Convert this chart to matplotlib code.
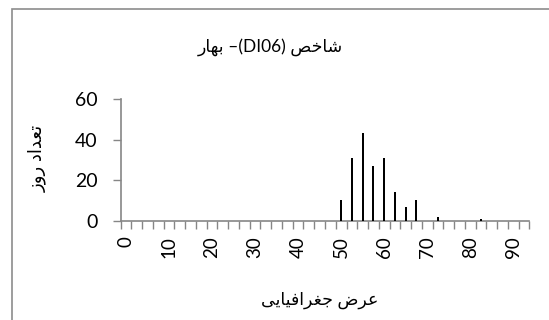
import numpy as np
import matplotlib
matplotlib.use("Agg")
from matplotlib import pyplot as plt
from matplotlib.patches import Rectangle

# latitude classes (category axis) and number of days
latitudes = [0, 2.5, 5, 7.5, 10, 12.5, 15, 17.5, 20, 22.5, 25, 27.5, 30, 32.5,
             35, 37.5, 40, 42.5, 45, 47.5, 50, 52.5, 55, 57.5, 60, 62.5, 65,
             67.5, 70, 72.5, 75, 77.5, 80, 82.5, 85, 87.5, 90, 92.5]
days = [0, 0, 0, 0, 0, 0, 0, 0, 0, 0, 0, 0, 0, 0,
        0, 0, 0, 0, 0, 0, 10, 31, 43, 27, 31, 14, 7,
        10, 0, 2, 0, 0, 0, 0.6, 0, 0, 0, 0]
tick_labels = [0, 10, 20, 30, 40, 50, 60, 70, 80, 90]
y_ticks = [0, 20, 40, 60]

# persian text is shaped by hand (presentation forms), matplotlib has no shaping
forms = {
    'ا': ('\uFE8D', '\uFE8E', None, None),
    'ب': ('\uFE8F', '\uFE90', '\uFE91', '\uFE92'),
    'ت': ('\uFE95', '\uFE96', '\uFE97', '\uFE98'),
    'ج': ('\uFE9D', '\uFE9E', '\uFE9F', '\uFEA0'),
    'خ': ('\uFEA5', '\uFEA6', '\uFEA7', '\uFEA8'),
    'د': ('\uFEA9', '\uFEAA', None, None),
    'ر': ('\uFEAD', '\uFEAE', None, None),
    'ز': ('\uFEAF', '\uFEB0', None, None),
    'ش': ('\uFEB5', '\uFEB6', '\uFEB7', '\uFEB8'),
    'ص': ('\uFEB9', '\uFEBA', '\uFEBB', '\uFEBC'),
    'ض': ('\uFEBD', '\uFEBE', '\uFEBF', '\uFEC0'),
    'ع': ('\uFEC9', '\uFECA', '\uFECB', '\uFECC'),
    'غ': ('\uFECD', '\uFECE', '\uFECF', '\uFED0'),
    'ف': ('\uFED1', '\uFED2', '\uFED3', '\uFED4'),
    'ه': ('\uFEE9', '\uFEEA', '\uFEEB', '\uFEEC'),
    'و': ('\uFEED', '\uFEEE', None, None),
    'ی': ('\uFBFC', '\uFBFD', '\uFBFE', '\uFBFF'),
}


def shape_word(w):
    out = []
    for i, c in enumerate(w):
        f = forms[c]
        prev_joins = i > 0 and forms[w[i - 1]][2] is not None
        next_joins = f[2] is not None and i < len(w) - 1
        if prev_joins and next_joins:
            out.append(f[3])
        elif prev_joins:
            out.append(f[1])
        elif next_joins:
            out.append(f[2])
        else:
            out.append(f[0])
    return ''.join(reversed(out))


def shape(text):
    # right to left: reverse word order too
    return ' '.join(shape_word(w) for w in reversed(text.split()))


title_txt = shape_word('بهار') + ' –(DI06) ' + shape_word('شاخص')
ylabel_txt = shape('تعداد روز')
xlabel_txt = shape('عرض جغرافیایی')

fonts = ['Lato', 'DejaVu Sans']
plt.rcParams['font.family'] = fonts
axis_gray = '#868686'

fig = plt.figure(figsize=(5.49, 3.2), dpi=100)
ax = fig.add_axes([120.7 / 549, 1 - 220.7 / 320, (529.3 - 120.7) / 549, (220.7 - 99) / 320])

ax.bar(latitudes, days, width=0.5, color='black', zorder=3)

ax.set_xlim(-1.25, 93.75)
ax.set_ylim(0, 60)

ax.set_xticks(tick_labels)
ax.set_xticklabels([str(t) for t in tick_labels], rotation=90, fontsize=13.5)
ax.set_xticks([latitudes[0] - 1.25] + [l + 1.25 for l in latitudes], minor=True)
ax.tick_params(axis='x', which='major', length=0, pad=11)
ax.tick_params(axis='x', which='minor', length=5.5, width=1, color=axis_gray, direction='out')

ax.set_yticks(y_ticks)
ax.set_yticklabels([str(t) for t in y_ticks], fontsize=14)
ax.tick_params(axis='y', length=5.5, width=1, color=axis_gray, pad=11)

for s in ['top', 'right']:
    ax.spines[s].set_visible(False)
for s in ['left', 'bottom']:
    ax.spines[s].set_color(axis_gray)
    ax.spines[s].set_linewidth(1.2)

fig.text(270 / 549, 1 - 47 / 320, title_txt, ha='center', va='center', fontsize=12.5)
fig.text(37 / 549, 1 - 158 / 320, ylabel_txt, ha='center', va='center', fontsize=13, rotation=90)
fig.text(320 / 549, 1 - 300 / 320, xlabel_txt, ha='center', va='center', fontsize=12.5)

fig.patches.append(Rectangle((11.5 / 549, -0.1), 1.0, 1 - 8.5 / 320 + 0.1, transform=fig.transFigure,
                             fill=False, edgecolor='#8c8c8c', linewidth=1.2))

fig.savefig('out.png', dpi=100)
